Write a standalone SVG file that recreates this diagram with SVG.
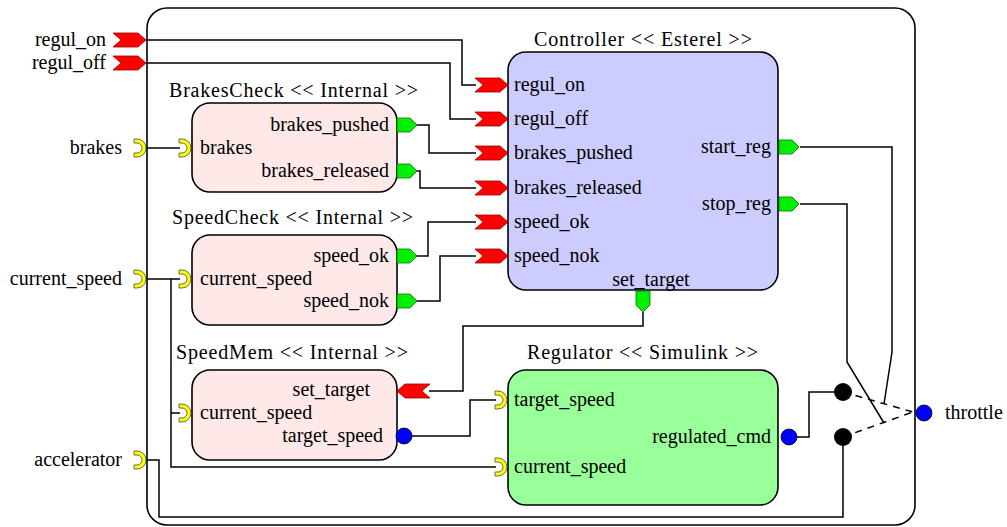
<svg xmlns="http://www.w3.org/2000/svg" xmlns:xlink="http://www.w3.org/1999/xlink" width="1007" height="527" viewBox="0 0 1007 527">
<style>
text{font-family:"Liberation Serif","Times New Roman",serif;font-size:20px;fill:#000}
.r{text-anchor:end}
.m{text-anchor:middle}
.box{stroke:#000;stroke-width:1.6}
.w{fill:none;stroke:#000;stroke-width:1.5}
.d{fill:none;stroke:#000;stroke-width:1.5;stroke-dasharray:7,6}
.red{fill:#ff0000;stroke:#900;stroke-width:0.8}
.grn{fill:#00ee00;stroke:#070;stroke-width:0.8}
.yel{fill:#ffff00;stroke:#444;stroke-width:0.8}
.blu{fill:#0000ff;stroke:#000;stroke-width:0.8}
.blk{fill:#000}
</style>
<defs>
<path id="rin" d="M0,-7 L25,-7 L33,0 L25,7 L0,7 L8,0 Z"/>
<path id="rleft" d="M0,0 L8,-7 L33,-7 L25,0 L33,7 L8,7 Z"/>
<path id="gout" d="M0,-7 L13,-7 L20,0 L13,7 L0,7 Z"/>
<path id="gdown" d="M-7,0 L7,0 L7,14 L0,21 L-7,14 Z"/>
<path id="yp" d="M-3,-9 L0,-9 A9,9 0 0 1 0,9 L-3,9 L-3,5 L0,5 A5,5 0 0 0 0,-5 L-3,-5 Z"/>
</defs>
<g id="system">
<rect x="147" y="8" width="768" height="517" rx="20" fill="#fff" class="box"/>
</g>
<g id="connectors">
<path class="w" d="M146,40 H462 V85 H476"/>
<path class="w" d="M146,63 H450 V119 H476"/>
<path class="w" d="M146,148 H180"/>
<path class="w" d="M417,125 H429 V153 H476"/>
<path class="w" d="M417,171 H420 V188 H476"/>
<path class="w" d="M417,256 H428 V222 H476"/>
<path class="w" d="M417,301 H440 V256 H476"/>
<path class="w" d="M146,279 H180"/>
<path class="w" d="M171,279 V467 H496"/>
<path class="w" d="M171,413 H180"/>
<path class="w" d="M146,460 H159 V517 H843 V437"/>
<path class="w" d="M643,312 V326 H463 V391 H429"/>
<path class="w" d="M412,436 H470 V400 H496"/>
<path class="w" d="M797,437 H809 V392 H843"/>
<path class="w" d="M800,147 H892 V352 L884,404"/>
<path class="w" d="M800,204 H847 V362 L884,423"/>
<path class="d" d="M843,392 L913,412"/>
<path class="d" d="M843,437 L913,412"/>
</g>
<g id="regul_on_in">
<text class="r" x="106" y="46">regul_on</text>
<use xlink:href="#rin" x="113" y="40" class="red"/>
</g>
<g id="regul_off_in">
<text class="r" x="106" y="69">regul_off</text>
<use xlink:href="#rin" x="113" y="63" class="red"/>
</g>
<g id="brakes_in">
<text class="r" x="122" y="154">brakes</text>
<use xlink:href="#yp" x="137" y="148" class="yel"/>
</g>
<g id="current_speed_in">
<text class="r" x="122" y="285">current_speed</text>
<use xlink:href="#yp" x="137" y="279" class="yel"/>
</g>
<g id="accelerator_in">
<text class="r" x="122" y="466">accelerator</text>
<use xlink:href="#yp" x="137" y="460" class="yel"/>
</g>
<g id="throttle_out">
<circle cx="924" cy="413" r="8" class="blu"/>
<text x="945" y="419">throttle</text>
</g>
<g id="Controller">
<text x="534" y="46" textLength="218" lengthAdjust="spacing">Controller &lt;&lt; Esterel &gt;&gt;</text>
<rect x="508" y="52" width="270" height="238" rx="18" fill="#ccccff" class="box"/>
<use xlink:href="#rin" x="475" y="85" class="red"/>
<use xlink:href="#rin" x="475" y="119" class="red"/>
<use xlink:href="#rin" x="475" y="153" class="red"/>
<use xlink:href="#rin" x="475" y="188" class="red"/>
<use xlink:href="#rin" x="475" y="222" class="red"/>
<use xlink:href="#rin" x="475" y="256" class="red"/>
<use xlink:href="#gout" x="779" y="147" class="grn"/>
<use xlink:href="#gout" x="779" y="204" class="grn"/>
<use xlink:href="#gdown" x="643" y="291" class="grn"/>
<text x="514" y="91">regul_on</text>
<text x="514" y="125">regul_off</text>
<text x="514" y="159">brakes_pushed</text>
<text x="514" y="194">brakes_released</text>
<text x="514" y="228">speed_ok</text>
<text x="514" y="262">speed_nok</text>
<text class="r" x="771" y="153">start_reg</text>
<text class="r" x="771" y="210">stop_reg</text>
<text class="m" x="651" y="286">set_target</text>
</g>
<g id="BrakesCheck">
<text x="169" y="97" textLength="249" lengthAdjust="spacing">BrakesCheck &lt;&lt; Internal &gt;&gt;</text>
<rect x="192" y="103" width="205" height="89" rx="18" fill="#ffe8e8" class="box"/>
<use xlink:href="#yp" x="182" y="148" class="yel"/>
<use xlink:href="#gout" x="397" y="125" class="grn"/>
<use xlink:href="#gout" x="397" y="171" class="grn"/>
<text x="200" y="154">brakes</text>
<text class="r" x="389" y="131">brakes_pushed</text>
<text class="r" x="389" y="177">brakes_released</text>
</g>
<g id="SpeedCheck">
<text x="172" y="224" textLength="241" lengthAdjust="spacing">SpeedCheck &lt;&lt; Internal &gt;&gt;</text>
<rect x="192" y="235" width="205" height="90" rx="18" fill="#ffe8e8" class="box"/>
<use xlink:href="#yp" x="182" y="279" class="yel"/>
<use xlink:href="#gout" x="397" y="256" class="grn"/>
<use xlink:href="#gout" x="397" y="301" class="grn"/>
<text x="200" y="285">current_speed</text>
<text class="r" x="389" y="262">speed_ok</text>
<text class="r" x="389" y="307">speed_nok</text>
</g>
<g id="SpeedMem">
<text x="176" y="359" textLength="232" lengthAdjust="spacing">SpeedMem &lt;&lt; Internal &gt;&gt;</text>
<rect x="192" y="370" width="205" height="90" rx="18" fill="#ffe8e8" class="box"/>
<use xlink:href="#rleft" x="397" y="391" class="red"/>
<use xlink:href="#yp" x="182" y="413" class="yel"/>
<circle cx="404" cy="436" r="8" class="blu"/>
<text class="r" x="370" y="396">set_target</text>
<text x="200" y="419">current_speed</text>
<text class="r" x="383" y="442">target_speed</text>
</g>
<g id="Regulator">
<text x="527" y="359" textLength="231" lengthAdjust="spacing">Regulator &lt;&lt; Simulink &gt;&gt;</text>
<rect x="508" y="370" width="270" height="135" rx="18" fill="#99ff99" class="box"/>
<use xlink:href="#yp" x="498" y="400" class="yel"/>
<use xlink:href="#yp" x="498" y="467" class="yel"/>
<circle cx="789" cy="437" r="8" class="blu"/>
<text x="514" y="406">target_speed</text>
<text x="514" y="473">current_speed</text>
<text class="r" x="771" y="443">regulated_cmd</text>
</g>
<g id="Switch">
<circle cx="843" cy="392" r="9" class="blk"/>
<circle cx="843" cy="437" r="9" class="blk"/>
</g>
</svg>
